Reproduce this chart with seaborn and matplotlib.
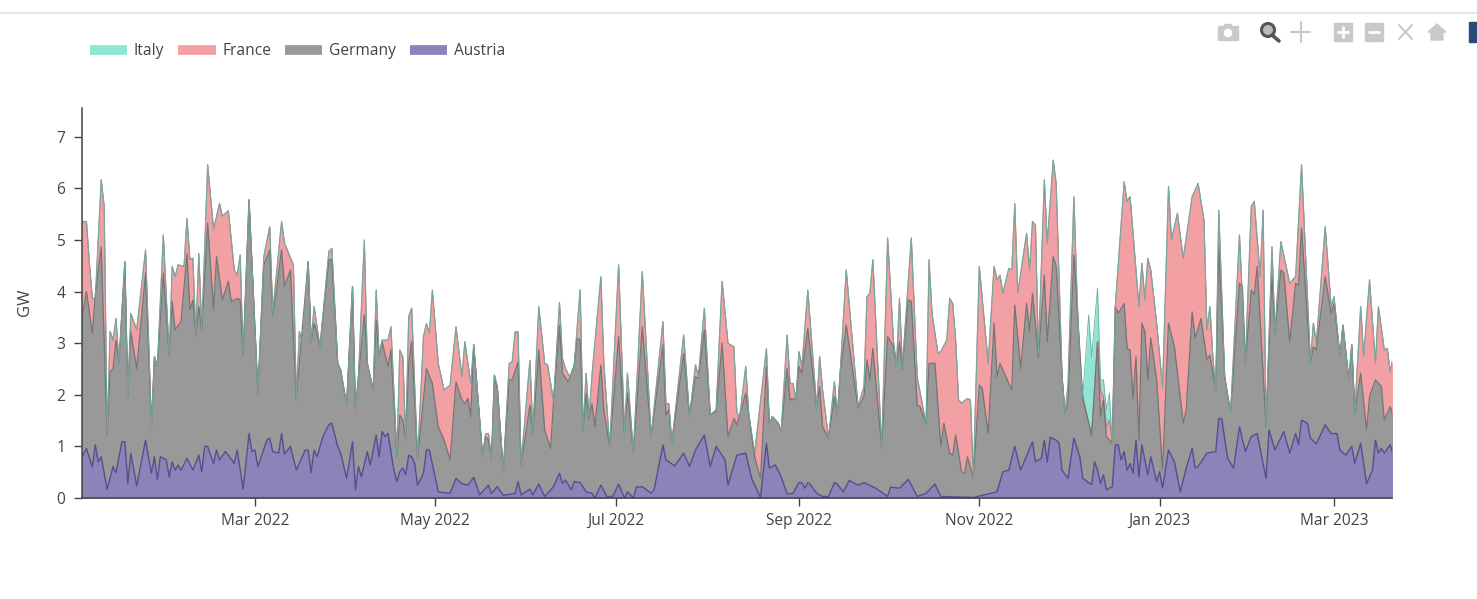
import matplotlib
matplotlib.use("Agg")
import matplotlib.pyplot as plt
from matplotlib.lines import Line2D
from matplotlib.patches import Rectangle, Circle, Polygon
import matplotlib.dates as mdates
import pandas as pd
import seaborn as sns

# Days are counted from 1 Jan 2022; values are GW.
top_days = [0,2,3,4,5,7,8,9,10,11,12,13,15,16,17,19,22,24,25,26,28,30,31,32,33,35,36,37,38,39,40,41,43,45,47,48,50,52,53,54,55,57,60,62,64,65,68,69,72,73,74,75,77,78,79,81,84,85,87,88,90,92,93,94,96,97,99,100,101,102,104,105,107,108,109,110,111,
 112,114,116,117,118,119,121,123,125,127,129,130,132,133,136,137,138,139,140,141,143,145,146,147,148,149,152,153,155,157,158,160,162,163,164,166,167,169,170,171,172,173,176,177,179,182,184,185,187,190,193,197,198,199,200,204,206,208,209,211,213,215,
 217,219,221,222,223,225,226,228,232,233,234,236,237,239,240,241,242,243,244,246,249,250,251,253,255,256,257,259,263,265,266,267,268,271,273,275,276,277,278,281,283,286,287,288,290,291,293,294,295,296,297,298,300,301,302,304,307,309,310,311,312,314,315,316,317,320,321,322,323,324,326,327,329,
 330,332,333,334,336,337,338,339,341,342,344,345,346,347,348,349,350,353,354,355,358,359,360,361,362,364,366,368,369,371,373,376,378,380,381,382,383,384,385,387,389,392,394,396,397,399,400,401,403,404,406,409,411,413,416,417,418,421,423,424,426,427,429,430,431,433,434,436,438,439,441,442,443,444]
italy_gw = [5.36,5.36,4.55,3.87,3.87,6.17,5.65,1.19,3.23,3.06,3.48,2.61,4.58,1.97,3.58,3.26,4.81,1.38,2.74,2.55,5.10,2.74,4.49,4.29,4.52,4.49,5.42,4.62,4.65,3.13,4.74,3.26,6.46,5.20,5.71,5.46,5.57,4.42,4.32,4.71,2.74,5.78,2.03,4.68,5.26,3.58,5.36,4.94,4.52,1.90,3.23,3.03,4.58,3.00,3.71,2.93,4.78,4.84,2.61,2.48,1.80,4.10,1.64,2.35,5.00,2.61,2.09,4.03,2.74,3.06,3.06,3.32,0.80,2.87,2.74,1.12,3.52,
 3.68,.74,3.13,3.38,3.19,4.03,2.61,2.09,2.19,3.32,2.35,3.03,2.22,2.97,.80,1.25,1.25,.74,2.38,2.16,.51,2.61,2.64,3.22,3.22,.64,2.67,1.25,3.71,2.61,2.58,1.87,3.79,2.71,2.51,2.29,2.58,4.04,1.29,2.42,1.58,2.38,4.29,2.61,.99,4.52,1.25,2.42,.87,4.39,1.19,3.42,1.83,1.83,1.06,3.16,1.58,2.58,2.35,3.68,1.61,1.71,
 4.20,3.00,2.93,1.64,1.58,2.55,1.64,.90,2.90,1.42,1.58,1.45,1.29,3.16,2.22,2.22,1.90,2.84,2.55,4.03,1.74,2.74,2.09,1.16,2.26,1.58,2.48,4.42,1.77,2.16,3.90,3.97,4.62,.96,5.04,3.03,2.55,3.87,2.55,5.04,2.35,1.42,4.62,3.58,2.81,2.84,3.06,3.87,3.77,3.06,1.90,1.84,1.93,1.90,.38,4.49,2.61,4.49,4.23,4.32,3.97,4.45,4.42,5.71,3.97,5.13,4.42,5.36,5.29,2.81,6.17,4.94,6.55,
 6.10,2.35,1.64,2.19,5.84,4.03,2.55,1.97,3.55,2.74,4.07,2.29,2.29,1.71,2.03,1.06,3.71,6.13,5.75,5.84,3.71,4.55,3.84,4.65,4.42,3.39,2.13,6.04,5.00,5.52,4.65,5.84,6.10,5.39,3.26,3.71,2.74,2.09,5.58,2.35,1.64,5.10,2.61,5.65,5.75,4.29,5.58,1.38,4.87,3.19,4.97,4.16,4.29,6.46,2.61,3.39,3.00,5.26,3.71,3.90,2.74,3.35,2.29,2.97,1.64,3.71,2.74,4.23,2.61,3.71,2.87,2.90,2.45,2.74]
# France follows the same outline except on the few days where Italy stands above it.
france_lower_days = [228,341,342,344,345,346,347,348]
france_lower_gw = [.80,1.45,1.22,3.03,2.09,1.97,1.38,1.51]

germany_days = [0,2,4,5,7,9,10,11,12,13,15,16,17,19,22,24,25,26,28,30,31,32,34,36,37,38,39,40,41,43,45,46,48,50,51,53,54,55,57,60,62,64,65,66,68,69,71,73,74,77,78,79,81,84,85,87,88,90,92,93,94,96,97,99,100,101,102,104,105,107,108,109,110,111,
 112,114,117,119,121,123,125,127,129,130,131,132,133,136,137,138,139,140,141,143,145,146,148,149,152,153,155,157,159,160,162,163,165,167,168,169,170,171,172,173,174,176,177,179,182,184,185,187,190,193,197,198,199,200,204,206,208,209,211,213,215,
 217,219,221,222,225,228,230,232,233,234,236,237,239,240,241,242,243,244,246,249,250,251,253,255,256,257,259,263,265,266,267,268,271,273,275,276,277,278,280,281,283,284,286,287,289,291,292,294,295,296,298,299,300,302,304,305,307,309,310,311,315,316,318,320,321,322,324,326,327,329,
 330,332,333,334,336,338,339,342,344,345,346,347,349,350,351,353,354,355,356,357,358,359,360,361,362,364,366,368,370,373,374,376,377,379,381,382,384,385,387,389,392,393,394,396,397,398,401,403,404,406,407,409,411,412,413,416,417,418,421,423,424,426,427,429,430,431,433,435,436,438,440,441,443,444]
germany_gw = [3.32,4.00,3.19,3.94,4.87,1.19,2.45,2.51,3.06,2.61,4.58,1.97,3.23,2.51,4.36,1.38,2.74,2.55,4.36,2.74,3.81,3.26,3.42,4.74,3.65,3.84,3.13,3.71,3.23,5.33,3.65,4.68,3.84,4.20,3.81,3.87,3.84,2.74,5.78,2.03,4.52,4.81,3.55,3.90,4.81,4.10,4.42,1.90,2.61,4.58,3.00,3.39,2.93,4.62,4.62,2.61,2.48,1.80,4.10,1.64,2.35,3.55,2.61,2.09,3.45,2.74,3.03,2.55,2.87,.80,1.61,1.51,1.12,2.61,
 3.03,.74,2.51,2.22,1.38,1.12,.74,2.25,1.90,1.83,1.93,1.58,2.97,.80,1.19,1.12,.74,2.38,2.09,.51,2.29,2.29,2.64,.64,1.80,1.25,2.87,1.32,.96,1.87,3.35,2.42,2.25,2.58,3.09,3.06,1.29,2.03,1.54,1.83,1.38,2.58,1.71,.99,3.13,1.25,2.03,.87,3.32,1.19,2.97,1.61,1.71,1.06,2.80,1.58,2.35,2.32,3.26,1.61,1.67,
 3.00,1.19,1.54,1.42,2.03,.80,.38,2.55,1.42,1.58,1.45,1.29,2.51,1.90,1.93,1.90,2.55,2.42,3.29,1.74,2.16,1.38,1.16,1.97,1.58,2.45,3.35,1.74,1.97,2.68,2.29,2.90,.96,3.13,2.93,2.55,3.03,2.51,3.84,3.81,1.80,1.77,1.42,2.61,2.61,1.00,1.45,.87,.83,1.22,.51,.48,.80,.38,2.19,2.13,1.25,3.39,2.35,2.61,2.09,3.74,2.51,3.77,3.23,3.97,2.74,4.32,3.03,4.68,
 4.49,2.35,1.64,1.84,4.71,2.87,1.93,1.22,3.03,1.58,1.90,1.19,1.06,3.71,3.58,3.77,2.90,2.87,1.93,2.74,1.12,3.39,3.23,2.29,3.10,2.29,.54,3.39,2.93,1.45,1.71,3.61,3.10,3.48,2.68,2.77,2.09,4.87,2.35,1.64,4.16,4.10,2.61,4.03,3.94,4.49,1.38,4.32,3.19,4.42,4.36,3.03,4.16,4.13,5.23,2.61,2.93,2.87,4.29,3.58,3.77,2.74,3.35,2.29,2.97,1.64,2.42,1.32,1.97,2.29,2.16,1.51,1.77,1.58]

austria_days = [0,2,4,5,6,7,9,11,12,14,15,16,17,19,22,24,25,26,27,29,30,31,32,33,34,36,38,40,41,42,43,45,46,47,49,50,52,53,55,57,58,59,60,63,64,65,67,68,69,71,73,74,76,77,78,79,80,82,84,85,87,88,90,92,93,94,95,97,98,100,101,102,103,104,106,107,108,109,110,111,
 112,113,114,116,117,118,121,125,127,129,131,133,135,138,139,141,143,147,148,149,152,153,155,157,160,162,163,164,166,167,169,171,173,174,176,178,180,182,184,185,187,188,190,193,194,197,198,201,204,206,208,211,213,215,218,
 219,222,225,227,230,232,233,235,237,239,241,243,244,245,246,247,249,251,253,255,256,258,260,263,265,269,273,274,277,280,283,286,289,291,302,310,312,314,316,318,322,323,325,326,327,328,330,331,
 332,334,336,338,339,342,343,344,345,346,347,349,350,351,352,353,354,355,356,357,358,359,361,362,364,365,366,368,370,372,374,376,377,378,381,384,385,386,388,390,392,394,396,398,401,402,404,407,409,411,412,413,415,416,418,421,423,425,426,428,430,431,433,435,437,438,439,440,441,443,444]
austria_gw = [.74,.96,.60,1.03,.70,.80,.17,.61,.49,1.09,1.09,.28,.87,.23,1.12,.48,.80,.35,.80,.74,.41,.70,.54,.64,.54,.77,.54,.83,.51,1.00,1.00,.67,.93,.74,.90,.83,.67,.93,.17,1.25,.90,.93,.61,1.12,1.16,.90,.87,1.25,.85,1.00,.54,.67,.93,.93,.49,.93,.80,1.19,1.42,1.45,1.00,.87,.38,1.09,.16,.61,.41,.90,.64,1.22,.80,1.29,1.19,1.25,.54,.32,.51,.58,.45,.83,
 .80,.67,.25,.48,.93,.93,.12,.09,.38,.28,.25,.40,.06,.25,.09,.22,.05,.09,.32,.06,.17,.06,.27,.03,.22,.48,.28,.35,.16,.32,.30,.12,.09,.00,.25,.03,.03,.27,.00,.12,.00,.21,.22,.09,.16,1.03,.74,.62,.87,.61,.93,1.22,.61,1.00,.74,
 .25,.83,.87,.38,.01,1.06,.58,.64,.41,.08,.09,.30,.30,.19,.30,.25,.09,.03,.03,.30,.27,.12,.34,.25,.30,.19,.03,.21,.19,.36,.03,.09,.27,.03,.01,.12,.51,.54,1.00,.54,1.09,.70,.77,1.12,.70,1.18,1.12,1.06,
 .54,.38,1.16,.80,.38,.26,.70,.54,.28,.45,.16,.22,1.03,1.03,.74,.90,.54,.67,.48,1.12,.41,1.03,.45,.80,.32,.51,.19,.93,.70,.12,.58,.96,.58,.61,.87,.90,1.54,1.54,.77,.58,1.38,.90,1.19,1.25,.38,1.32,.93,1.29,.87,1.25,1.03,1.51,1.45,1.16,1.05,1.42,1.25,1.25,.93,.83,1.00,.67,1.06,.28,.54,1.12,.87,.96,.87,1.03,.83]

legend_names = ["Italy", "France", "Germany", "Austria"]
fill_colors = ["#8fe6d5", "#f3a0a5", "#999999", "#8c83b8"]
line_colors = ["#6fae9f", "#b08a8c", "#757575", "#574d92"]
y_ticks = [0, 1, 2, 3, 4, 5, 6, 7]
x_tick_months = ["2022-03-01", "2022-05-01", "2022-07-01", "2022-09-01", "2022-11-01", "2023-01-01", "2023-03-01"]

start = pd.Timestamp("2022-01-01")
to_dates = lambda days: start + pd.to_timedelta(days, unit="D")

france_map = dict(zip(france_lower_days, france_lower_gw))
france_gw = [france_map.get(d, v) for d, v in zip(top_days, italy_gw)]

series = {
    "Italy": pd.DataFrame({"date": to_dates(top_days), "gw": italy_gw}),
    "France": pd.DataFrame({"date": to_dates(top_days), "gw": france_gw}),
    "Germany": pd.DataFrame({"date": to_dates(germany_days), "gw": germany_gw}),
    "Austria": pd.DataFrame({"date": to_dates(austria_days), "gw": austria_gw}),
}

sns.set_theme(style="ticks")
plt.rcParams["font.family"] = ["Open Sans", "DejaVu Sans"]

W, H = 1477, 599
fig = plt.figure(figsize=(W / 100, H / 100), dpi=100)
ax = fig.add_axes([82 / W, 1 - 498 / H, (1392 - 82) / W, (498 - 108) / H])

for name, fc in zip(legend_names, fill_colors):
    d = series[name]
    ax.fill_between(d["date"], 0, d["gw"], color=fc, lw=0, zorder=2)

for name, lc, lw, z in [("France", line_colors[1], 0.9, 3), ("Germany", line_colors[2], 0.9, 4),
                        ("Italy", line_colors[0], 0.6, 5), ("Austria", line_colors[3], 1.0, 6)]:
    sns.lineplot(data=series[name], x="date", y="gw", color=lc, lw=lw, ax=ax,
                 estimator=None, errorbar=None, sort=False, zorder=z, legend=False)

ax.set_xlim(start + pd.Timedelta(hours=12), start + pd.Timedelta(days=443.6))
ax.set_ylim(0, 7.56)
ax.set_yticks(y_ticks)
ax.set_xticks(pd.to_datetime(x_tick_months))
ax.xaxis.set_major_formatter(mdates.DateFormatter("%b %Y"))
ax.tick_params(axis="both", length=6, width=1, color="#444444", labelcolor="#444444", labelsize=11.2, pad=6)
ax.tick_params(axis="x", pad=5)
ax.set_xlabel("")
ax.set_ylabel("GW", fontsize=12, color="#444444")
ax.yaxis.set_label_coords((33 - 82) / (1392 - 82), 0.503)
for s in ["top", "right"]:
    ax.spines[s].set_visible(False)
for s in ["left", "bottom"]:
    ax.spines[s].set_color("#444444")
    ax.spines[s].set_linewidth(1.1)
    ax.spines[s].set_zorder(8)

handles = [Line2D([0], [0], color=c, lw=7, solid_capstyle="butt") for c in fill_colors]
leg = fig.legend(handles, legend_names, loc="upper left", bbox_to_anchor=(90 / W, 1 - 43 / H),
                 ncol=4, frameon=False, fontsize=11.2, labelcolor="#444444", borderpad=0, borderaxespad=0,
                 handlelength=2.4, handletextpad=0.42, columnspacing=0.9)

# Page chrome around the plot, in picture pixels.
ch = fig.add_axes([0, 0, 1, 1], zorder=-1)
ch.set_xlim(0, W)
ch.set_ylim(H, 0)
ch.axis("off")
ch.plot([0, W], [13, 13], color="#e2e2e2", lw=1.2)
g = "#c9c9c9"
ch.add_patch(Rectangle((1218, 26), 20, 14, color=g))
ch.add_patch(Rectangle((1224, 23.5), 7, 3, color=g))
ch.add_patch(Circle((1228, 33), 3.6, color="white"))
ch.add_patch(Circle((1268, 30), 6.5, fc="#bbbbbb", ec="#555555", lw=2.2))
ch.plot([1272, 1279], [35, 41], color="#555555", lw=2.6)
ch.plot([1291, 1310], [32, 32], color=g, lw=1.5)
ch.plot([1300.5, 1300.5], [22, 42], color=g, lw=1.5)
ch.add_patch(Rectangle((1334, 23), 18, 18, color=g))
ch.plot([1338, 1348], [32, 32], color="white", lw=2)
ch.plot([1343, 1343], [27, 37], color="white", lw=2)
ch.add_patch(Rectangle((1365, 23), 18, 18, color=g))
ch.plot([1369, 1379], [32, 32], color="white", lw=2)
ch.plot([1399, 1412], [25, 39], color=g, lw=1.5)
ch.plot([1399, 1412], [39, 25], color=g, lw=1.5)
ch.add_patch(Polygon([(1428, 32), (1437, 24), (1446, 32), (1443, 32), (1443, 40), (1431, 40), (1431, 32)], color=g))
ch.add_patch(Rectangle((1469, 22), 8, 20, color="#2b4a78"))

fig.savefig("out.png", dpi=100)
